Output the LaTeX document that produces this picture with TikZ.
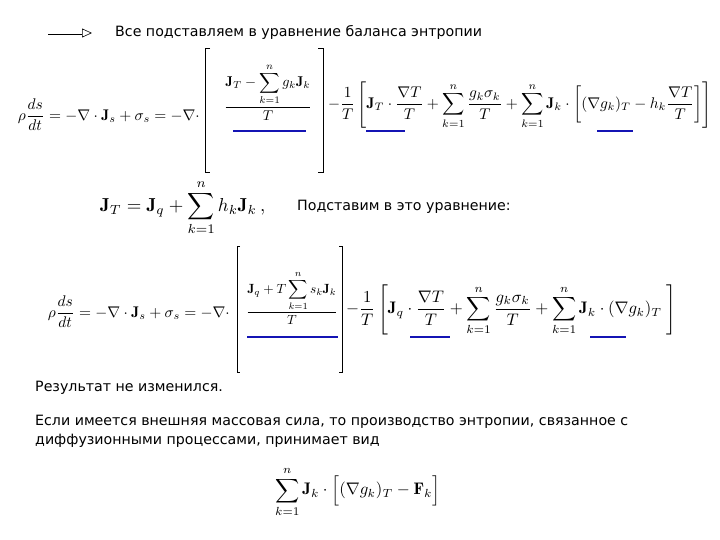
\documentclass[tikz,border=0pt]{standalone}
\usetikzlibrary{arrows.meta}
\usepackage{fontspec}
\usepackage{amsmath,graphicx}
\setsansfont{DejaVu Sans}
\begin{document}
\begin{tikzpicture}[x=1pt,y=-1pt,
  txt/.style={font=\sffamily\fontsize{14.2}{17}\selectfont,anchor=west,inner sep=0pt},
  brk/.style={line width=0.8pt},
  blue line/.style={line width=2.2pt,draw={rgb,255:red,20;green,20;blue,180}},
  m/.style={inner sep=0pt}]
\useasboundingbox (0,0) rectangle (720,540);
% arrow
\coordinate (a1) at (48,33); \coordinate (a2) at (92,33);
\draw[double,line width=0.6pt,double distance=3pt,-{Triangle[open,length=10pt,width=9pt]}] (a1) -- (a2);
\node[txt] (t1) at (115,32) {Все подставляем в уравнение баланса энтропии};
% Equation 1
\node[m,anchor=east] (e1l) at (200,115) {\resizebox{182pt}{!}{$\rho\dfrac{ds}{dt}=-\nabla\cdot\mathbf J_s+\sigma_s=-\nabla\cdot$}};
\node[m] (e1f) at (268,92) {\resizebox{88pt}{!}{$\dfrac{\mathbf J_T-\displaystyle\sum_{k=1}^{n}g_k\mathbf J_k}{T}$}};
\draw[brk] (210,48) -- (205,48) -- (205,172) -- (210,172);
\draw[brk] (318,48) -- (323,48) -- (323,172) -- (318,172);
\node[m,anchor=west] (e1r) at (328,105) {\resizebox{383pt}{!}{$-\dfrac1T\left[\mathbf J_T\cdot\dfrac{\nabla T}{T}+\displaystyle\sum_{k=1}^{n}\dfrac{g_k\sigma_k}{T}+\sum_{k=1}^{n}\mathbf J_k\cdot\left[(\nabla g_k)_T-h_k\dfrac{\nabla T}{T}\right]\right]$}};
\draw[blue line] (233,131) -- (306,131);
\draw[blue line] (366,131) -- (405,131);
\draw[blue line] (597,131) -- (633,131);
% Equation 2
\node[m,anchor=west] (e2) at (100,208) {\resizebox{165pt}{!}{$\mathbf J_T=\mathbf J_q+\displaystyle\sum_{k=1}^{n}h_k\mathbf J_k\,,$}};
\node[txt] (t2) at (297,207) {Подставим в это уравнение:};
% Equation 3
\node[m,anchor=east] (e3l) at (230,312) {\resizebox{182pt}{!}{$\rho\dfrac{ds}{dt}=-\nabla\cdot\mathbf J_s+\sigma_s=-\nabla\cdot$}};
\node[m] (e3f) at (292,298) {\resizebox{92pt}{!}{$\dfrac{\mathbf J_q+T\displaystyle\sum_{k=1}^{n}s_k\mathbf J_k}{T}$}};
\draw[brk] (240,246) -- (237,246) -- (237,372) -- (240,372);
\draw[brk] (339,246) -- (342,246) -- (342,372) -- (339,372);
\node[m,anchor=west] (e3r) at (346,310) {\resizebox{330pt}{!}{$-\dfrac1T\left[\mathbf J_q\cdot\dfrac{\nabla T}{T}+\displaystyle\sum_{k=1}^{n}\dfrac{g_k\sigma_k}{T}+\sum_{k=1}^{n}\mathbf J_k\cdot(\nabla g_k)_T\;\right]$}};
\draw[blue line] (247,337) -- (338,337);
\draw[blue line] (410,337) -- (450,337);
\draw[blue line] (590,337) -- (626,337);
% texts
\node[txt] (t3) at (35,388) {Результат не изменился.};
\node[txt] (t4) at (35,422) {Если имеется внешняя массовая сила, то производство энтропии, связанное с};
\node[txt] (t5) at (35,441) {диффузионными процессами, принимает вид};
% Equation 4
\node[m,anchor=west] (e4) at (275,492) {\resizebox{165pt}{!}{$\displaystyle\sum_{k=1}^{n}\mathbf J_k\cdot\Bigl[(\nabla g_k)_T-\mathbf F_k\Bigr]$}};
\end{tikzpicture}
\end{document}
